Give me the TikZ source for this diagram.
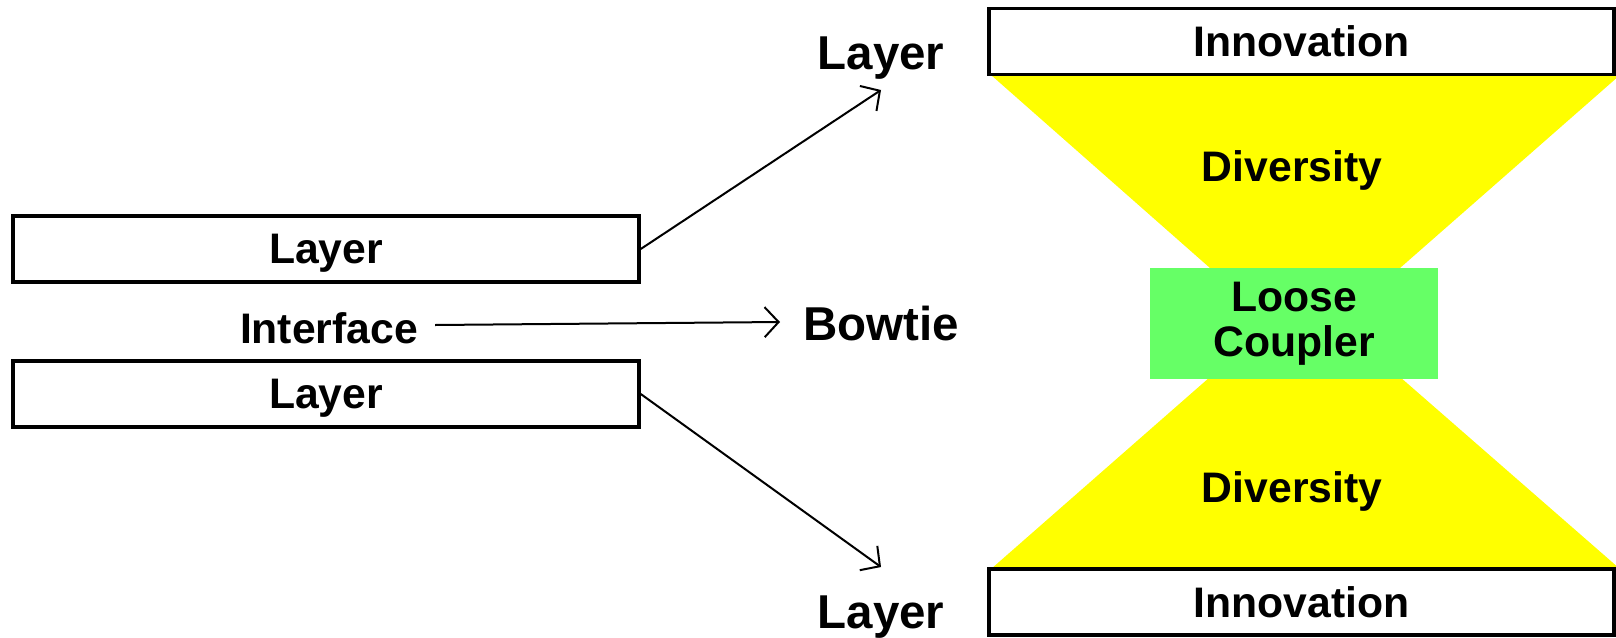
\documentclass[tikz,border=0pt]{standalone}
\usepackage{fontspec}
\setmainfont{Liberation Sans}
\usetikzlibrary{arrows.meta}
\definecolor{bowyellow}{HTML}{FFFF00}
\definecolor{coupgreen}{HTML}{66FF66}
\tikzset{
  lbl/.style={font=\fontsize{42.7}{47}\selectfont\bfseries, inner sep=0pt, align=center},
  biglbl/.style={font=\fontsize{47.5}{52}\selectfont\bfseries, inner sep=0pt, align=center},
  layerbox/.style={lbl, text depth=0pt, draw=black, line width=3.5pt, fill=white, minimum width=626pt, minimum height=66pt},
  innobox/.style={lbl, draw=black, line width=3.5pt, fill=white, minimum width=625pt, minimum height=66pt},
  coupbox/.style={lbl, fill=coupgreen, minimum width=288pt, minimum height=111pt},
  conn/.style={line width=2pt, -{Straight Barb[length=14pt,width=30pt,line width=2pt]}}
}
\begin{document}
\begin{tikzpicture}[x=1pt,y=-1pt]
\useasboundingbox (0,0) rectangle (1616,637);
% bowtie
\fill[bowyellow] (991,75) -- (1620,75) -- (1400,268) -- (1210,268) -- cycle;
\fill[bowyellow] (1210,377) -- (1400,377) -- (1620,569) -- (991,569) -- cycle;
\node[innobox] (innotop) at (1301.5,41.5) {Innovation};
\node[innobox] (innobot) at (1301.5,602) {Innovation};
\node[coupbox] (coup) at (1294,323.5) {Loose\\[-2pt]Coupler};
\node[lbl] (divtop) at (1292,170) {Diversity};
\node[lbl] (divbot) at (1292,491) {Diversity};
% left side
\node[layerbox] (ltop) at (326,249) {Layer};
\node[layerbox] (lbot) at (326,394) {Layer};
\node[lbl] (iface) at (329,328) {Interface};
\node[biglbl] (bowtie) at (881,324) {Bowtie};
\node[biglbl] (laytop) at (881,58) {Layer};
\node[biglbl] (laybot) at (881,617) {Layer};
\coordinate (tiptop) at (881,90);
\coordinate (tipbot) at (881,567);
\coordinate (tipmid) at (780,322);
\draw[conn] (ltop.east) -- (tiptop);
\draw[conn] (lbot.east) -- (tipbot);
\draw[conn] ([xshift=17pt,yshift=3pt]iface.east) -- (tipmid);
\end{tikzpicture}
\end{document}
